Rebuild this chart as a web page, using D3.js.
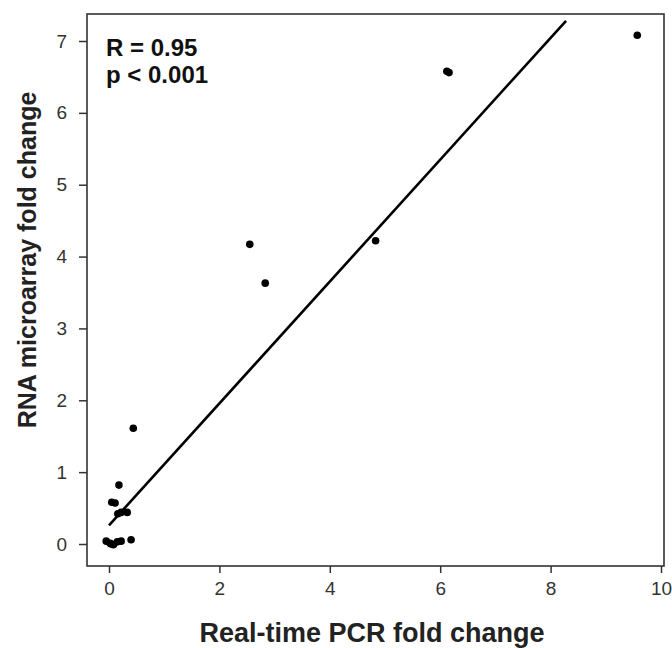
<!DOCTYPE html>
<html>
<head>
<meta charset="utf-8">
<script src="https://cdn.jsdelivr.net/npm/d3@7"></script>
<style>
  html, body { margin: 0; padding: 0; background: #fff; }
  svg { display: block; font-family: "Liberation Sans", Arial, sans-serif; }
</style>
</head>
<body>
<svg id="chart" width="672" height="648"></svg>
<script>
// Data: real-time PCR fold change (x) vs RNA microarray fold change (y)
const pcrFold = [9.57, 6.12, 6.16, 2.55, 2.83, 4.83, 0.44, 0.18, 0.05, 0.11, 0.16, 0.22, 0.33, 0.40, -0.05, 0.02, 0.08, 0.15, 0.22, 0.04];
const arrayFold = [7.08, 6.58, 6.56, 4.17, 3.63, 4.22, 1.61, 0.82, 0.58, 0.57, 0.42, 0.44, 0.44, 0.06, 0.04, 0.01, -0.01, 0.03, 0.04, 0.00];
const fitIntercept = 0.26;
const fitSlope = 0.848;
const fitRange = [0, 8.28];
const xTicks = [0, 2, 4, 6, 8, 10];
const yTicks = [0, 1, 2, 3, 4, 5, 6, 7];
const statLabels = ["R = 0.95", "p < 0.001"];
const xTitle = "Real-time PCR fold change";
const yTitle = "RNA microarray fold change";

const svg = d3.select("#chart");
const box = { left: 87, top: 14, right: 664, bottom: 566 };

const x = d3.scaleLinear().domain([0, 10]).range([109, 661]);
const y = d3.scaleLinear().domain([0, 7]).range([544, 41]);

// Plot frame
svg.append("rect")
  .attr("x", box.left).attr("y", box.top)
  .attr("width", box.right - box.left).attr("height", box.bottom - box.top)
  .attr("fill", "none").attr("stroke", "#333").attr("stroke-width", 1.6);

// X axis
const xAxis = d3.axisBottom(x).tickValues(xTicks).tickSize(7).tickPadding(9).tickFormat(d3.format("d"));
const gx = svg.append("g").attr("transform", `translate(0,${box.bottom})`).call(xAxis);
gx.select(".domain").remove();
gx.selectAll(".tick line").attr("stroke", "#333").attr("stroke-width", 1.5);
gx.selectAll(".tick text").attr("fill", "#333").attr("font-size", 19)
  .attr("font-family", "Liberation Sans, Arial, sans-serif");

// Y axis
const yAxis = d3.axisLeft(y).tickValues(yTicks).tickSize(8).tickPadding(12).tickFormat(d3.format("d"));
const gy = svg.append("g").attr("transform", `translate(${box.left},0)`).call(yAxis);
gy.select(".domain").remove();
gy.selectAll(".tick line").attr("stroke", "#333").attr("stroke-width", 1.5);
gy.selectAll(".tick text").attr("fill", "#333").attr("font-size", 19)
  .attr("font-family", "Liberation Sans, Arial, sans-serif");

// Regression line
svg.append("line")
  .attr("x1", x(fitRange[0])).attr("y1", y(fitIntercept + fitSlope * fitRange[0]))
  .attr("x2", x(fitRange[1])).attr("y2", y(fitIntercept + fitSlope * fitRange[1]))
  .attr("stroke", "#000").attr("stroke-width", 2.6);

// Points
svg.append("g").selectAll("circle")
  .data(pcrFold.map((v, i) => [v, arrayFold[i]]))
  .join("circle")
  .attr("cx", d => x(d[0])).attr("cy", d => y(d[1]))
  .attr("r", 3.8).attr("fill", "#000");

// Stats text
svg.append("g").selectAll("text")
  .data(statLabels)
  .join("text")
  .attr("x", 106).attr("y", (d, i) => 56 + i * 27)
  .attr("font-size", 24).attr("font-weight", "bold").attr("fill", "#111")
  .text(d => d);

// Axis titles
svg.append("text")
  .attr("x", 372).attr("y", 642)
  .attr("text-anchor", "middle")
  .attr("font-size", 27).attr("font-weight", "bold").attr("fill", "#222")
  .text(xTitle);

svg.append("text")
  .attr("transform", `translate(36,${260}) rotate(-90)`)
  .attr("text-anchor", "middle")
  .attr("font-size", 25).attr("font-weight", "bold").attr("fill", "#222")
  .text(yTitle);
</script>
</body>
</html>
